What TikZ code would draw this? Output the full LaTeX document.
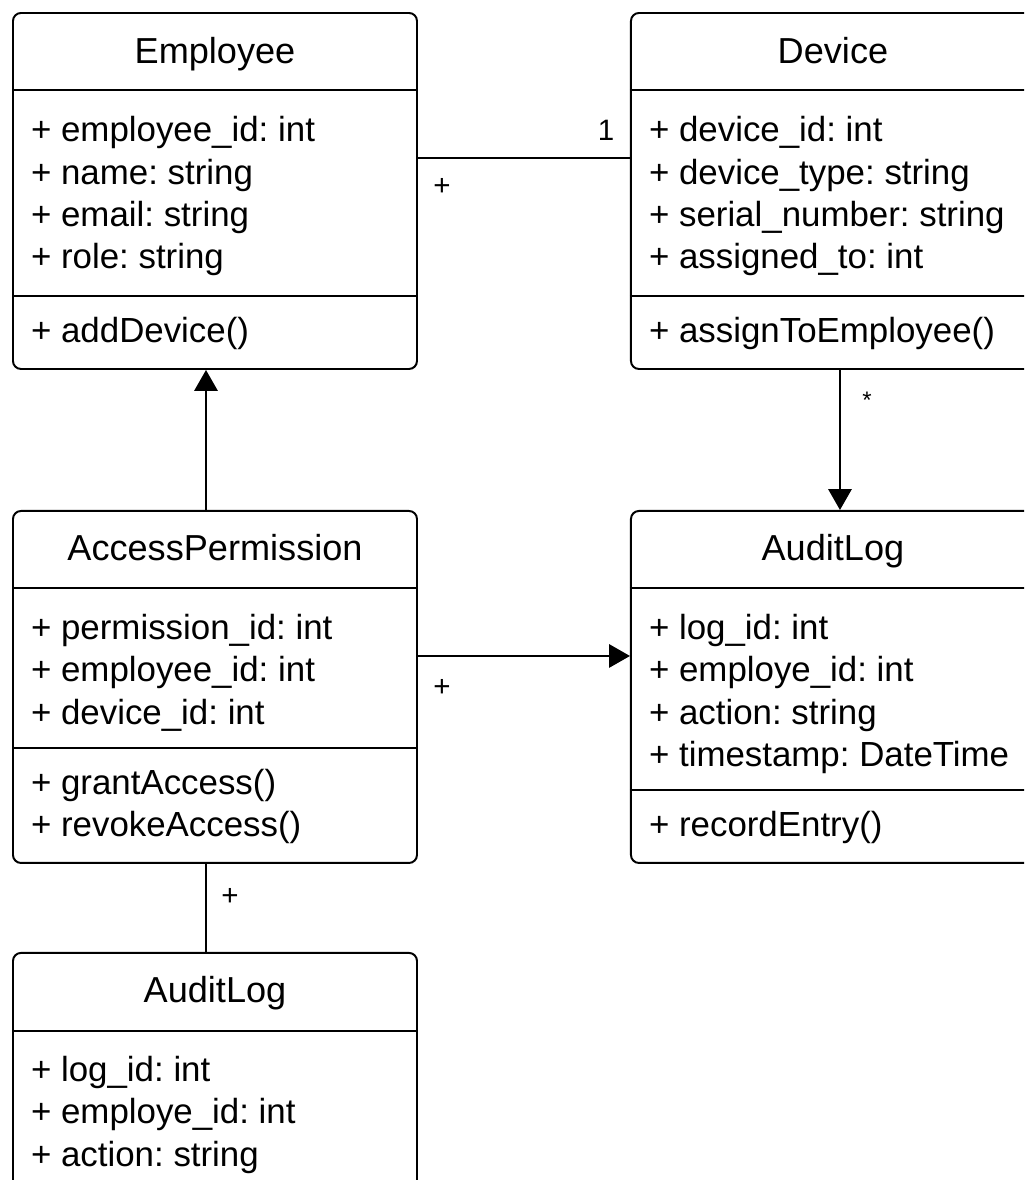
\documentclass[tikz,border=0pt]{standalone}
\usepackage{fontspec}
\setmainfont{Liberation Sans}
\usetikzlibrary{positioning,arrows.meta}
\frenchspacing

\begin{document}
\begin{tikzpicture}[
  node distance=5.3cm,
  classbox/.style={draw, line width=1.4pt, rounded corners=0.2cm, minimum width=10.1cm, inner sep=0pt},
  classname/.style={anchor=base, inner sep=0pt, font=\fontsize{25.7}{30.2}\selectfont},
  members/.style={anchor=north west, inner sep=0pt, align=left, font=\fontsize{24.8}{30.2}\selectfont},
  divider/.style={line width=1.4pt},
  assoc/.style={line width=1.4pt},
  navig/.style={line width=1.4pt, -{Triangle[length=0.52cm, width=0.58cm]}},
  mult/.style={inner sep=0pt, font=\fontsize{21}{25}\selectfont}
]
  \useasboundingbox (0,0) rectangle (25.6,-29.5);
  \clip (0,0) rectangle (25.6,-29.5);

  % class boxes
  \node (emp) [classbox, minimum height=8.9cm, anchor=north west] at (0.3,-0.3) {};
  \node (dev) [classbox, minimum height=8.9cm, right=of emp] {};
  \node (perm) [classbox, minimum height=8.8cm, below=3.5cm of emp] {};
  \node (logA) [classbox, minimum height=8.8cm, right=of perm] {};
  \node (logB) [classbox, minimum height=8cm, below=2.2cm of perm] {};

  % compartments
  \draw [divider] ([yshift=-1.95cm]emp.north west) -- ([yshift=-1.95cm]emp.north east);
  \draw [divider] ([yshift=-7.1cm]emp.north west) -- ([yshift=-7.1cm]emp.north east);
  \draw [divider] ([yshift=-1.95cm]dev.north west) -- ([yshift=-1.95cm]dev.north east);
  \draw [divider] ([yshift=-7.1cm]dev.north west) -- ([yshift=-7.1cm]dev.north east);
  \draw [divider] ([yshift=-1.95cm]perm.north west) -- ([yshift=-1.95cm]perm.north east);
  \draw [divider] ([yshift=-5.95cm]perm.north west) -- ([yshift=-5.95cm]perm.north east);
  \draw [divider] ([yshift=-1.95cm]logA.north west) -- ([yshift=-1.95cm]logA.north east);
  \draw [divider] ([yshift=-7cm]logA.north west) -- ([yshift=-7cm]logA.north east);
  \draw [divider] ([yshift=-1.97cm]logB.north west) -- ([yshift=-1.97cm]logB.north east);

  % Employee
  \node (empname) [classname] at ([yshift=-1.275cm]emp.north) {Employee};
  \node (empattr) [members] at ([xshift=0.47cm, yshift=-2.6cm]emp.north west)
    {+ employee\_id: int\\+ name: string\\+ email: string\\+ role: string};
  \node (empops) [members] at ([xshift=0.47cm, yshift=-7.62cm]emp.north west) {+ addDevice()};

  % Device
  \node (devname) [classname] at ([yshift=-1.275cm]dev.north) {Device};
  \node (devattr) [members] at ([xshift=0.47cm, yshift=-2.6cm]dev.north west)
    {+ device\_id: int\\+ device\_type: string\\+ serial\_number: string\\+ assigned\_to: int};
  \node (devops) [members] at ([xshift=0.47cm, yshift=-7.62cm]dev.north west) {+ assignToEmployee()};

  % AccessPermission
  \node (permname) [classname] at ([yshift=-1.275cm]perm.north) {AccessPermission};
  \node (permattr) [members] at ([xshift=0.47cm, yshift=-2.6cm]perm.north west)
    {+ permission\_id: int\\+ employee\_id: int\\+ device\_id: int};
  \node (permops) [members] at ([xshift=0.47cm, yshift=-6.47cm]perm.north west)
    {+ grantAccess()\\+ revokeAccess()};

  % AuditLog (right)
  \node (logAname) [classname] at ([yshift=-1.275cm]logA.north) {AuditLog};
  \node (logAattr) [members] at ([xshift=0.47cm, yshift=-2.6cm]logA.north west)
    {+ log\_id: int\\+ employe\_id: int\\+ action: string\\+ timestamp: DateTime};
  \node (logAops) [members] at ([xshift=0.47cm, yshift=-7.52cm]logA.north west) {+ recordEntry()};

  % AuditLog (bottom)
  \node (logBname) [classname] at ([yshift=-1.275cm]logB.north) {AuditLog};
  \node (logBattr) [members] at ([xshift=0.47cm, yshift=-2.6cm]logB.north west)
    {+ log\_id: int\\+ employe\_id: int\\+ action: string\\+ timestamp: DateTime};

  % connectors
  \draw [assoc] ([yshift=-3.65cm]emp.north east) -- ([yshift=-3.65cm]dev.north west)
    node (m1) [mult, pos=1, xshift=-0.6cm, yshift=0.7cm] {1}
    node (m2) [mult, pos=0, xshift=0.6cm, yshift=-0.72cm] {+};
  \draw [navig] ([xshift=4.85cm]perm.north west) -- ([xshift=4.85cm]emp.south west);
  \draw [navig] ([xshift=5.25cm]dev.south west) -- ([xshift=5.25cm]logA.north west)
    node (m3) [mult, pos=0, xshift=0.675cm, yshift=-0.75cm, font=\fontsize{17}{20}\selectfont] {*};
  \draw [navig] ([yshift=-3.65cm]perm.north east) -- ([yshift=-3.65cm]logA.north west)
    node (m4) [mult, pos=0, xshift=0.6cm, yshift=-0.8cm] {+};
  \draw [assoc] ([xshift=4.85cm]perm.south west) -- ([xshift=4.85cm]logB.north west)
    node (m5) [mult, pos=0, xshift=0.6cm, yshift=-0.82cm] {+};
\end{tikzpicture}
\end{document}
